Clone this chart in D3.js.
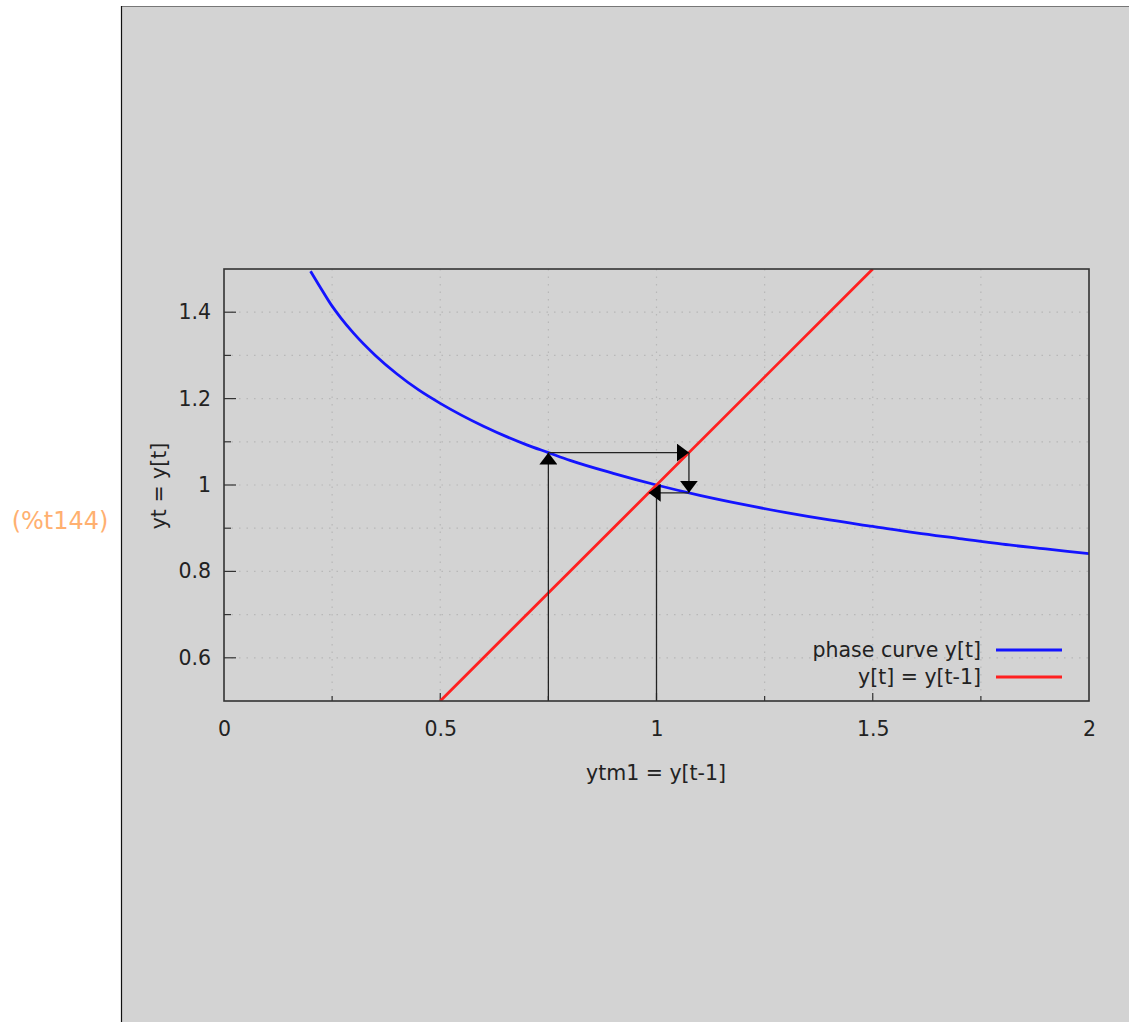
<!DOCTYPE html>
<html><head><meta charset="utf-8">
<script src="https://cdn.jsdelivr.net/npm/d3@7"></script>
<style>
body{margin:0;background:#fff;}
svg{display:block;}
text{font-family:"DejaVu Sans",Verdana,sans-serif;}
</style></head>
<body>
<script>
// phase curve y[t]
const curveX = [0.2,0.22,0.25,0.27,0.3,0.35,0.4,0.45,0.5,0.6,0.7,0.75,0.8,0.9,1.0,1.1,1.2,1.3,1.4,1.5,1.6,1.7,1.8,1.9,2.0];
const curveY = [1.495,1.462,1.414,1.387,1.351,1.300,1.257,1.220,1.189,1.136,1.093,1.075,1.057,1.027,1.0,0.976,0.955,0.936,0.919,0.904,0.889,0.876,0.863,0.852,0.841];
// identity line y[t] = y[t-1]
const diagX = [0.5,1.5];
const diagY = [0.5,1.5];
// cobweb arrows [x1,y1,x2,y2]
const arrows = [
  [0.75,0.5,0.75,1.075],
  [0.75,1.075,1.075,1.075],
  [1.075,1.075,1.075,0.982],
  [1.075,0.982,0.982,0.982]
];
const plainSegs = [[1.0,0.5,1.0,0.985]];
const xTicks = [0,0.5,1,1.5,2];
const xTickLabels = ["0","0.5","1","1.5","2"];
const xMinor = [0.25,0.5,0.75,1,1.25,1.5,1.75];
const yTicks = [0.6,0.8,1.0,1.2,1.4];
const yTickLabels = ["0.6","0.8","1","1.2","1.4"];
const yMinor = [0.6,0.7,0.8,0.9,1.0,1.1,1.2,1.3,1.4];
const seriesNames = ["phase curve y[t]","y[t] = y[t-1]"];
const seriesColors = ["#1414ff","#ff2020"];

const W=1129,H=1022;
const FS=20.5;
const svg=d3.select("body").append("svg").attr("width",W).attr("height",H);
svg.append("rect").attr("x",121).attr("y",6).attr("width",W-121).attr("height",H-6).attr("fill","#d3d3d3");
svg.append("line").attr("x1",121).attr("x2",W).attr("y1",6.5).attr("y2",6.5).attr("stroke","#777").attr("stroke-width",1);
svg.append("line").attr("x1",121.5).attr("x2",121.5).attr("y1",6).attr("y2",H).attr("stroke","#111").attr("stroke-width",1.2);
svg.append("text").attr("x",60).attr("y",529).attr("text-anchor","middle").attr("font-size",24)
  .attr("fill","#ffb070").text("(%t144)");

const L=224,R=1089,T=269,B=701;
const x=d3.scaleLinear().domain([0,2]).range([L,R]);
const y=d3.scaleLinear().domain([0.5,1.5]).range([B,T]);

const defs=svg.append("defs");
defs.append("clipPath").attr("id","clip").append("rect").attr("x",L).attr("y",T).attr("width",R-L).attr("height",B-T);
defs.append("marker").attr("id","ah").attr("viewBox","0 0 12 18").attr("refX",12).attr("refY",9)
  .attr("markerWidth",12).attr("markerHeight",18).attr("markerUnits","userSpaceOnUse").attr("orient","auto")
  .append("path").attr("d","M0,0L12,9L0,18Z").attr("fill","#000");

// grid
const g=svg.append("g");
g.selectAll(".gx").data(xMinor).join("line").attr("x1",d=>x(d)).attr("x2",d=>x(d)).attr("y1",T).attr("y2",B)
  .attr("stroke","#b8b8b8").attr("stroke-width",1.2).attr("stroke-dasharray","1.5,6");
g.selectAll(".gy").data(yMinor).join("line").attr("x1",L).attr("x2",R).attr("y1",d=>y(d)).attr("y2",d=>y(d))
  .attr("stroke","#b8b8b8").attr("stroke-width",1.2).attr("stroke-dasharray","1.5,6");

// ticks
const xAxis=d3.axisBottom(x).tickValues(xTicks).tickFormat((d,i)=>xTickLabels[i]).tickSize(0).tickPadding(20);
const xa=svg.append("g").attr("transform",`translate(0,${B})`).call(xAxis);
xa.select(".domain").remove();
xa.selectAll("text").attr("font-size",FS).attr("fill","#222");
const yAxis=d3.axisLeft(y).tickValues(yTicks).tickFormat((d,i)=>yTickLabels[i]).tickSize(0).tickPadding(13);
const ya=svg.append("g").attr("transform",`translate(${L},0)`).call(yAxis);
ya.select(".domain").remove();
ya.selectAll("text").attr("font-size",FS).attr("fill","#222");
svg.selectAll(".tx").data(xMinor).join("line").attr("x1",d=>x(d)).attr("x2",d=>x(d)).attr("y1",B).attr("y2",d=>B-(xTicks.includes(d)?8:5))
  .attr("stroke","#333").attr("stroke-width",1.2);
svg.selectAll(".ty").data(yMinor).join("line").attr("x1",L).attr("x2",d=>L+(yTicks.some(t=>Math.abs(t-d)<1e-9)?12:7)).attr("y1",d=>y(d)).attr("y2",d=>y(d))
  .attr("stroke","#333").attr("stroke-width",1.2);

// series
const plot=svg.append("g").attr("clip-path","url(#clip)");
const line=d3.line().x(d=>x(d[0])).y(d=>y(d[1])).curve(d3.curveMonotoneX);
plot.append("path").datum(curveX.map((v,i)=>[v,curveY[i]])).attr("d",line).attr("fill","none")
  .attr("stroke",seriesColors[0]).attr("stroke-width",2.8);
plot.append("path").datum(diagX.map((v,i)=>[v,diagY[i]])).attr("d",d3.line().x(d=>x(d[0])).y(d=>y(d[1]))).attr("fill","none")
  .attr("stroke",seriesColors[1]).attr("stroke-width",2.8);

// cobweb
svg.selectAll(".ps").data(plainSegs).join("line").attr("x1",d=>x(d[0])).attr("y1",d=>y(d[1])).attr("x2",d=>x(d[2])).attr("y2",d=>y(d[3]))
  .attr("stroke","#222").attr("stroke-width",1.3);
svg.selectAll(".ar").data(arrows).join("line").attr("x1",d=>x(d[0])).attr("y1",d=>y(d[1])).attr("x2",d=>x(d[2])).attr("y2",d=>y(d[3]))
  .attr("stroke","#222").attr("stroke-width",1.3).attr("marker-end","url(#ah)");

// frame
svg.append("rect").attr("x",L).attr("y",T).attr("width",R-L).attr("height",B-T).attr("fill","none").attr("stroke","#333").attr("stroke-width",1.6);

// labels
svg.append("text").attr("x",656).attr("y",780).attr("text-anchor","middle").attr("font-size",FS).attr("fill","#222").text("ytm1 = y[t-1]");
svg.append("text").attr("transform","translate(166,486) rotate(-90)").attr("text-anchor","middle").attr("font-size",FS).attr("fill","#222").text("yt = y[t]");

// legend
const lg=svg.append("g");
seriesNames.forEach((n,i)=>{
  const yy=650+i*27;
  lg.append("text").attr("x",981).attr("y",yy+7).attr("text-anchor","end").attr("font-size",FS).attr("fill","#222").text(n);
  lg.append("line").attr("x1",996).attr("x2",1062).attr("y1",yy).attr("y2",yy).attr("stroke",seriesColors[i]).attr("stroke-width",2.8);
});
</script>
</body></html>
